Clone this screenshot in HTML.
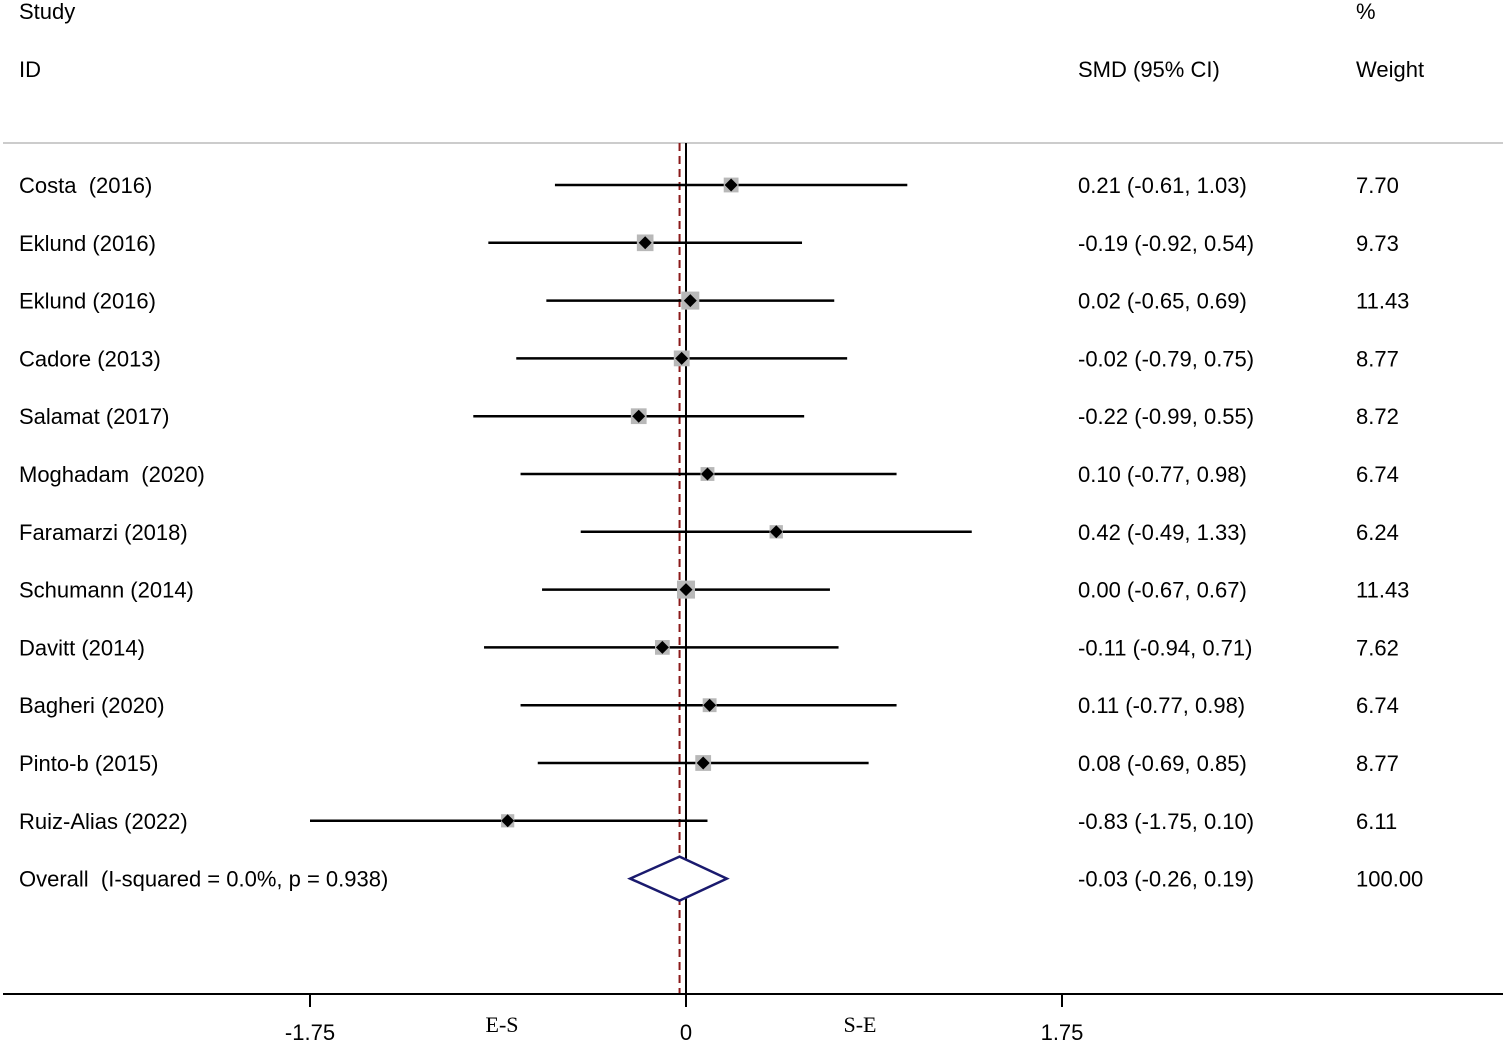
<!DOCTYPE html>
<html><head><meta charset="utf-8"><style>
body{margin:0;background:#fff}
svg text{font-family:"Liberation Sans",Arial,sans-serif;font-size:22px;fill:#000;white-space:pre}
</style></head><body>
<svg id="c" width="1505" height="1043" viewBox="0 0 1505 1043">
<text x="19" y="19">Study</text>
<text x="19" y="77">ID</text>
<text x="1078" y="77">SMD (95% CI)</text>
<text x="1356" y="19">%</text>
<text x="1356" y="77">Weight</text>
<line x1="3" y1="143" x2="1503" y2="143" stroke="#bbb" stroke-width="1.5"/>
<g id="g"></g>
</svg>
<script>
const studies=["Costa  (2016)","Eklund (2016)","Eklund (2016)","Cadore (2013)","Salamat (2017)","Moghadam  (2020)","Faramarzi (2018)","Schumann (2014)","Davitt (2014)","Bagheri (2020)","Pinto-b (2015)","Ruiz-Alias (2022)"];
const smd=[0.21,-0.19,0.02,-0.02,-0.22,0.10,0.42,0.00,-0.11,0.11,0.08,-0.83];
const lo=[-0.61,-0.92,-0.65,-0.79,-0.99,-0.77,-0.49,-0.67,-0.94,-0.77,-0.69,-1.75];
const hi=[1.03,0.54,0.69,0.75,0.55,0.98,1.33,0.67,0.71,0.98,0.85,0.10];
const weights=[7.70,9.73,11.43,8.77,8.72,6.74,6.24,11.43,7.62,6.74,8.77,6.11];
const ciLabels=["0.21 (-0.61, 1.03)","-0.19 (-0.92, 0.54)","0.02 (-0.65, 0.69)","-0.02 (-0.79, 0.75)","-0.22 (-0.99, 0.55)","0.10 (-0.77, 0.98)","0.42 (-0.49, 1.33)","0.00 (-0.67, 0.67)","-0.11 (-0.94, 0.71)","0.11 (-0.77, 0.98)","0.08 (-0.69, 0.85)","-0.83 (-1.75, 0.10)"];
const overall=[-0.03,-0.26,0.19];
const ticks=[-1.75,0,1.75];
const tickLabels=["-1.75","0","1.75"];
const NS="http://www.w3.org/2000/svg";
const g=document.getElementById('g');
const X=v=>686+v*376/1.75;
const Y=i=>185+i*57.8;
function mk(t,a,p){const e=document.createElementNS(NS,t);for(const k in a)e.setAttribute(k,a[k]);(p||g).appendChild(e);return e;}
let e;
e=mk('line',{x1:X(overall[0]),y1:143,x2:X(overall[0]),y2:994,stroke:'#8b1a1a','stroke-width':2,'stroke-dasharray':'8,5'});


e=mk('line',{x1:X(0),y1:143,x2:X(0),y2:1006,stroke:'#000','stroke-width':2});


studies.forEach((s,i)=>{
 const y=Y(i);
 e=mk('text',{x:19,y:y+8}); e.textContent=s;
 
 
 e=mk('line',{x1:X(lo[i]),y1:y,x2:X(hi[i]),y2:y,stroke:'#000','stroke-width':2.5});
 
 
 const sz=16*Math.sqrt(weights[i]/9);
 e=mk('rect',{x:X(smd[i])-sz/2,y:y-sz/2,width:sz,height:sz,fill:'#b8b8b8'});
 
 
 const d=6.5,cx=X(smd[i]);
 e=mk('polygon',{points:`${cx},${y-d} ${cx+d},${y} ${cx},${y+d} ${cx-d},${y}`,fill:'#000'});
 
 
 e=mk('text',{x:1078,y:y+8}); e.textContent=ciLabels[i];
 
 
 e=mk('text',{x:1356,y:y+8}); e.textContent=weights[i].toFixed(2);
 
 
});
const oy=Y(12);
e=mk('text',{x:19,y:oy+8}); e.textContent="Overall  (I-squared = 0.0%, p = 0.938)";


e=mk('polygon',{points:`${X(overall[1])},${oy} ${X(overall[0])},${oy-22} ${X(overall[2])},${oy} ${X(overall[0])},${oy+22}`,fill:'#fff',stroke:'#1a1a6e','stroke-width':2.5});


e=mk('text',{x:1078,y:oy+8}); e.textContent="-0.03 (-0.26, 0.19)";


e=mk('text',{x:1356,y:oy+8}); e.textContent="100.00";


e=mk('line',{x1:3,y1:994,x2:1503,y2:994,stroke:'#000','stroke-width':2});


ticks.forEach((t,i)=>{
 e=mk('line',{x1:X(t),y1:994,x2:X(t),y2:1007,stroke:'#000','stroke-width':2});
 
 
 e=mk('text',{x:X(t),y:1040,'text-anchor':'middle'}); e.textContent=tickLabels[i];
 
 
});
e=mk('text',{x:502,y:1032,'text-anchor':'middle',style:'font-family:"Liberation Serif",serif'}); e.textContent="E-S";


e=mk('text',{x:860,y:1032,'text-anchor':'middle',style:'font-family:"Liberation Serif",serif'}); e.textContent="S-E";


</script>
</body></html>
